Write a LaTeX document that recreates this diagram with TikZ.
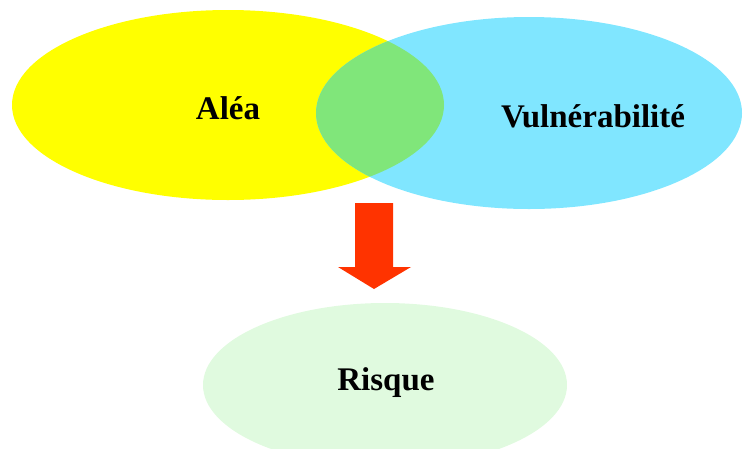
\documentclass[tikz,border=0pt]{standalone}
\usepackage{fontspec}
\setmainfont{Liberation Serif}
\definecolor{aleaY}{HTML}{FFFF00}
\definecolor{vulnB}{HTML}{80E6FF}
\definecolor{overG}{HTML}{80E67A}
\definecolor{arrR}{HTML}{FF3300}
\definecolor{risqG}{HTML}{E0FADF}
\tikzset{
  lbl/.style={font=\fontsize{33}{38}\selectfont\bfseries, text=black, inner sep=0pt}
}
\begin{document}
\begin{tikzpicture}[x=1pt,y=-1pt]
\useasboundingbox (0,0) rectangle (743,448);
\begin{scope}
\clip (0,0) rectangle (743,448);
% Alea ellipse
\fill[aleaY] (228,105) ellipse [x radius=216, y radius=95];
% Vulnerabilite ellipse
\fill[vulnB] (529,113) ellipse [x radius=213, y radius=96];
% overlap
\begin{scope}
\clip (228,105) ellipse [x radius=216, y radius=95];
\fill[overG] (529,113) ellipse [x radius=213, y radius=96];
\end{scope}
% Risque ellipse
\fill[risqG] (385,385) ellipse [x radius=182, y radius=82];
% arrow
\fill[arrR] (355,203) -- (393,203) -- (393,267) -- (411,267) -- (374,289)
  -- (338,267) -- (355,267) -- cycle;
\end{scope}
\node[lbl] (alea) at (228,108) {Aléa};
\node[lbl] (vuln) at (593,116) {Vulnérabilité};
\node[lbl] (risque) at (386,383) {Risque};
\end{tikzpicture}
\end{document}
